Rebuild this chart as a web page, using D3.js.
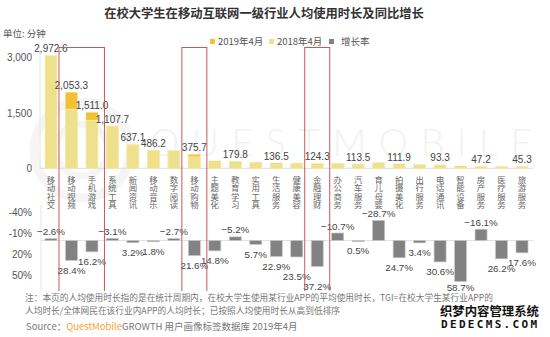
<!DOCTYPE html>
<html>
<head>
<meta charset="utf-8">
<script src="https://cdn.jsdelivr.net/npm/d3@7"></script>
<style>
  html, body { margin: 0; padding: 0; background: #fff; }
  svg { display: block; font-family: "Noto Sans CJK SC", "Liberation Sans", sans-serif; }
  .vcat { writing-mode: vertical-rl; text-orientation: upright; }
</style>
</head>
<body>
<svg id="chart" width="550" height="337"></svg>
<script>
// Industry categories, sorted by average usage time (minutes)
const categories = ["移动社交","移动视频","手机游戏","系统工具","新闻资讯","移动音乐","数字阅读","移动购物",
  "主题美化","教育学习","实用工具","生活服务","健康美容","金融理财","办公商务","汽车服务",
  "育儿母婴","拍摄美化","出行服务","电话通讯","智能设备","房产服务","医疗服务","旅游服务"];
// Average usage time per user, April 2019 (minutes)
const time2019 = [2972.6, 2053.3, 1511.0, 1107.7, 637.1, 486.2, 465, 375.7,
  200, 179.8, 160, 136.5, 130, 124.3, 118, 113.5,
  112.5, 111.9, 100, 93.3, 60, 47.2, 46, 45.3];
// Average usage time per user, April 2018 (minutes)
const time2018 = [3052, 1599, 1300, 1143, 617, 478, 478, 309,
  174, 190, 151, 111, 105, 91, 132, 113,
  158, 90, 97, 71, 38, 56, 36, 38.5];
// Year-on-year growth rate (%)
const growth = [-2.6, 28.4, 16.2, -3.1, 3.2, 1.8, -2.7, 21.6,
  14.8, -5.2, 5.7, 22.9, 23.5, 37.2, -10.7, 0.5,
  -28.7, 24.7, 3.4, 30.6, 58.7, -16.1, 26.2, 17.6];
// Categories whose 2019 value is printed above the bar
const labelledTime = ["移动社交","移动视频","手机游戏","系统工具","新闻资讯","移动音乐","移动购物","教育学习",
  "生活服务","金融理财","汽车服务","拍摄美化","电话通讯","房产服务","旅游服务"];
// Highlighted category groups (framed in red)
const highlightGroups = [["移动视频","手机游戏"], ["移动购物"], ["金融理财"]];
// Axis ticks
const timeTicks = [0, 1500, 3000];
const growthTicks = [-40, -10, 20, 50];
const legendItems = ["2019年4月", "2018年4月", "增长率"];

const C19 = "#F3C232", C18 = "#EFE08E", CG = "#828282";
const svg = d3.select("#chart");

const x = d3.scalePoint().domain(categories).range([51, 522]);
const yTime = d3.scaleLinear().domain([0, 3000]).range([168.3, 57.3]);
const yGrowth = d3.scaleLinear().domain([-40, 50]).range([212.5, 275.5]);
const barW = 12;

const rows = categories.map((c, i) => ({ c, v19: time2019[i], v18: time2018[i], g: growth[i] }));

// faint brand watermark
const wm = svg.append("g").attr("fill", "none").attr("stroke", "#f5f5f5");
wm.append("circle").attr("cx", 82).attr("cy", 150).attr("r", 48).attr("stroke-width", 9);
wm.append("circle").attr("cx", 82).attr("cy", 150).attr("r", 26).attr("stroke-width", 7);
svg.append("text").attr("x", 150).attr("y", 156).attr("textLength", 382)
  .attr("lengthAdjust", "spacing").attr("font-size", 37).attr("font-weight", 300)
  .attr("fill", "#f2f2f2").attr("font-family", "Lato, sans-serif").text("QUESTMOBILE");

// title
svg.append("text").attr("x", 264).attr("y", 18).attr("text-anchor", "middle")
  .attr("font-size", 12.3).attr("font-weight", "bold").attr("fill", "#333")
  .text("在校大学生在移动互联网一级行业人均使用时长及同比增长");
svg.append("text").attr("x", 3).attr("y", 37).attr("font-size", 9.5).attr("fill", "#555")
  .text("单位: 分钟");

// legend
const legendColors = [C19, C18, CG];
const legendX = [210, 269, 329];
const lg = svg.append("g").selectAll("g").data(legendItems).join("g")
  .attr("transform", (d, i) => `translate(${legendX[i]},41.5)`);
lg.append("rect").attr("x", 0).attr("y", -2.5).attr("width", 5).attr("height", 5)
  .attr("fill", (d, i) => legendColors[i]);
lg.append("text").attr("x", (d, i) => i === 2 ? 12 : 8).attr("y", 3.5)
  .attr("font-size", 9.5).attr("fill", "#555").text(d => d);

// chart body clipped above the footnote
svg.append("defs").append("clipPath").attr("id", "body")
  .append("rect").attr("x", 0).attr("y", 40).attr("width", 550).attr("height", 251);
const body = svg.append("g").attr("clip-path", "url(#body)");

// axis guide lines
body.append("line").attr("x1", 40).attr("x2", 40).attr("y1", yTime(3000) - 6).attr("y2", yTime(0))
  .attr("stroke", "#e6e6e6");
body.append("line").attr("x1", 40).attr("x2", 533).attr("y1", yTime(0)).attr("y2", yTime(0))
  .attr("stroke", "#dcdcdc");
body.append("line").attr("x1", 41).attr("x2", 41).attr("y1", 205).attr("y2", 291)
  .attr("stroke", "#e6e6e6");
body.append("line").attr("x1", 41).attr("x2", 533).attr("y1", yGrowth(0)).attr("y2", yGrowth(0))
  .attr("stroke", "#e3e3e3");

// time axis
const axT = svg.append("g").attr("transform", "translate(40,0)")
  .call(d3.axisLeft(yTime).tickValues(timeTicks).tickSize(0).tickPadding(8).tickFormat(d3.format(",")));
axT.select(".domain").remove();
axT.selectAll("text").attr("font-size", 10).attr("fill", "#555").attr("font-family", "Liberation Sans, sans-serif");

// growth axis
const axG = svg.append("g").attr("transform", "translate(40,0)")
  .call(d3.axisLeft(yGrowth).tickValues(growthTicks).tickSize(0).tickPadding(8).tickFormat(d => d + "%"));
axG.select(".domain").remove();
axG.selectAll("text").attr("font-size", 10).attr("fill", "#555").attr("font-family", "Liberation Sans, sans-serif");

// time bars: 2019 first, 2018 laid over it
body.append("g").selectAll("rect").data(rows).join("rect")
  .attr("x", d => x(d.c) - barW / 2).attr("width", barW)
  .attr("y", d => yTime(d.v19)).attr("height", d => yTime(0) - yTime(d.v19))
  .attr("fill", C19);
body.append("g").selectAll("rect").data(rows).join("rect")
  .attr("x", d => x(d.c) - barW / 2).attr("width", barW)
  .attr("y", d => yTime(d.v18)).attr("height", d => yTime(0) - yTime(d.v18))
  .attr("fill", C18).attr("stroke", "#f6eebb").attr("stroke-width", 0.6);

// time value labels
const fmtT = d3.format(",.1f");
body.append("g").selectAll("text").data(rows.filter(d => labelledTime.includes(d.c))).join("text")
  .attr("x", d => x(d.c)).attr("y", d => yTime(Math.max(d.v19, d.v18)) - 3.5)
  .attr("text-anchor", "middle").attr("font-size", 10).attr("fill", "#444")
  .attr("font-family", "Liberation Sans, sans-serif").text(d => fmtT(d.v19));

// category names, set vertically
body.append("g").selectAll("text").data(rows).join("text")
  .attr("class", "vcat")
  .attr("x", d => x(d.c)).attr("y", 175.5)
  .attr("font-size", 8.4).attr("fill", "#666")
  .text(d => d.c);

// growth bars
body.append("g").selectAll("rect").data(rows).join("rect")
  .attr("x", d => x(d.c) - barW / 2).attr("width", barW)
  .attr("y", d => Math.min(yGrowth(0), yGrowth(d.g)))
  .attr("height", d => Math.max(1.2, Math.abs(yGrowth(d.g) - yGrowth(0))))
  .attr("fill", CG).attr("stroke", "#c8c8c8").attr("stroke-width", 0.7);

// growth labels: above for negatives, below for positives, nudged down when crowded
const fmtG = d => d3.format(".1f")(d) + "%";
const gl = rows.map(d => ({
  d, x: x(d.c),
  w: fmtG(d.g).length * 5.3,
  cy: d.g < 0 ? yGrowth(d.g) - 7 : Math.min(yGrowth(d.g) + 10, 287)
}));
for (let i = 1; i < gl.length; i++) {
  const a = gl[i - 1], b = gl[i];
  if (a.d.g > 0 && b.d.g > 0 && (a.w + b.w) / 2 - (b.x - a.x) > 3 && Math.abs(b.cy - a.cy) < 3) {
    b.cy = a.cy + 10;
  }
}
body.append("g").selectAll("text").data(gl).join("text")
  .attr("x", e => e.x).attr("y", e => e.cy + 3.5).attr("text-anchor", "middle")
  .attr("font-size", 9.8).attr("fill", "#444").attr("font-family", "Liberation Sans, sans-serif")
  .text(e => fmtG(e.d.g));

// red frames around highlighted groups
body.append("g").selectAll("rect").data(highlightGroups).join("rect")
  .attr("x", g => x(g[0]) - 12.5)
  .attr("width", g => x(g[g.length - 1]) - x(g[0]) + 25)
  .attr("y", 47.5).attr("height", 250)
  .attr("fill", "none").attr("stroke", "#C9585A").attr("stroke-width", 1);

// footnote
const fn = svg.append("g").attr("font-size", 8.7).attr("fill", "#777");
fn.append("text").attr("x", 25).attr("y", 301)
  .text("注：本页的人均使用时长指的是在统计周期内，在校大学生使用某行业APP的平均使用时长，TGI=在校大学生某行业APP的");
fn.append("text").attr("x", 25).attr("y", 313.5)
  .text("人均时长/全体网民在该行业内APP的人均时长；已按照人均使用时长从高到低排序");
const src = svg.append("text").attr("x", 26).attr("y", 330).attr("font-size", 9.5).attr("fill", "#777");
src.append("tspan").text("Source：");
src.append("tspan").attr("fill", "#F2A530").text("QuestMobile");
src.append("tspan").text("GROWTH 用户画像标签数据库  2019年4月");

// site mark, bottom right
const sm = svg.append("g").attr("font-weight", "bold").attr("fill", "#111")
  .attr("stroke", "#fff").attr("stroke-width", 2.5).attr("paint-order", "stroke");
sm.append("text").attr("x", 440).attr("y", 315.5).attr("font-size", 12.4)
  .attr("textLength", 99).attr("lengthAdjust", "spacingAndGlyphs").text("织梦内容管理系统");
sm.append("text").attr("x", 441).attr("y", 327.5).attr("font-size", 11)
  .attr("font-family", "DejaVu Sans Mono, monospace")
  .attr("textLength", 96).attr("lengthAdjust", "spacing").text("DEDECMS.COM");
</script>
</body>
</html>
